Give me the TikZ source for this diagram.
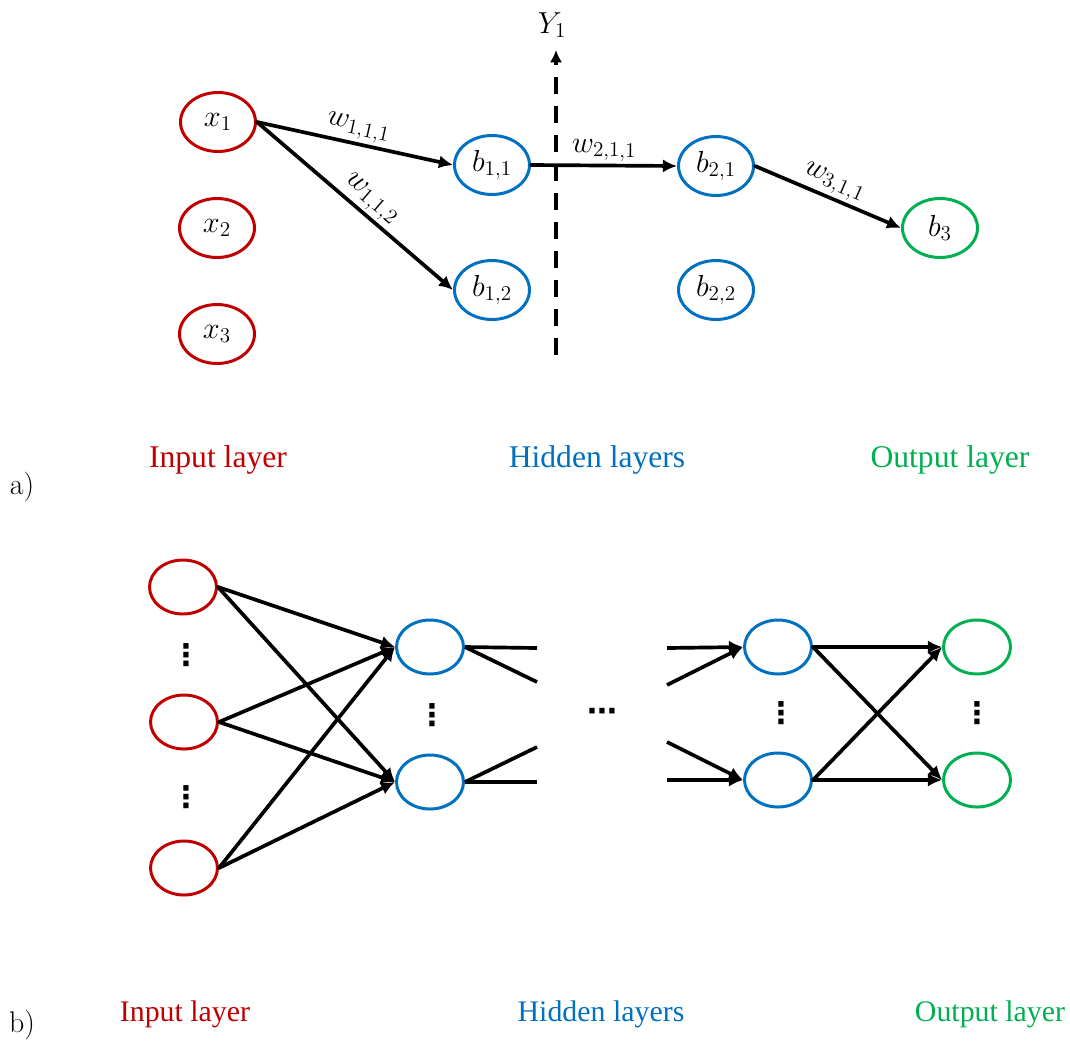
\documentclass[tikz,border=0pt]{standalone}
\usepackage{fontspec}
\newfontfamily\layerfont{Liberation Serif}
\newfontfamily\dotfont{DejaVu Sans}
\usetikzlibrary{arrows.meta,shapes.geometric}

\definecolor{inputred}{RGB}{192,0,0}
\definecolor{hiddenblue}{RGB}{0,112,192}
\definecolor{outputgreen}{RGB}{0,176,80}

\begin{document}
\begin{tikzpicture}[x=0.02cm,y=-0.02cm,line cap=round,line join=round,
    neuron/.style={ellipse,draw,line width=1.7pt,inner sep=0pt,
        minimum width=1.5cm,minimum height=1.18cm,
        font=\fontsize{18}{20}\selectfont},
    smallneuron/.style={ellipse,draw,line width=1.7pt,inner sep=0pt,
        minimum width=1.34cm,minimum height=1.08cm},
    edge/.style={line width=2.1pt,-{Latex[length=8pt,width=7.5pt]}},
    stub/.style={line width=2.1pt,line cap=butt},
    weight/.style={above,sloped,inner sep=1.5pt,
        font=\fontsize{18}{20}\selectfont},
    layerA/.style={anchor=base,font=\layerfont\fontsize{18}{20}\selectfont},
    layerB/.style={anchor=base,font=\layerfont\fontsize{17}{20}\selectfont},
    panel/.style={anchor=base,font=\fontsize{17}{20}\selectfont},
    dotsv/.style={inner sep=0pt,font=\dotfont\bfseries\fontsize{17}{20}\selectfont}]
    \useasboundingbox (0,0) rectangle (1070,1042);

    %----------------------------------------------------------
    % a) Red con una sola conexion por capa
    \node[neuron,draw=inputred] (x1) at (218,122) {$x_1$};
    \node[neuron,draw=inputred] (x2) at (217,228) {$x_2$};
    \node[neuron,draw=inputred] (x3) at (217,334) {$x_3$};

    \node[neuron,draw=hiddenblue] (b11) at (492,165) {$b_{1,1}$};
    \node[neuron,draw=hiddenblue] (b12) at (492,290) {$b_{1,2}$};
    \node[neuron,draw=hiddenblue] (b21) at (716,166) {$b_{2,1}$};
    \node[neuron,draw=hiddenblue] (b22) at (716,290) {$b_{2,2}$};

    \node[neuron,draw=outputgreen] (b3) at (940,228) {$b_3$};

    % Corte Y1
    \coordinate (cutlow) at (556,355);
    \coordinate (cuttop) at (556,50);
    \draw[line width=2.4pt,line cap=butt,dash pattern=on 9.7pt off 6.8pt,
        -{Latex[length=7pt,width=7pt]}] (cutlow) -- (cuttop);
    \node[font=\fontsize{18}{20}\selectfont] (Y1) at (552,25) {$Y_1$};

    % Pesos
    \draw[edge] (x1.east) -- node[weight,pos=0.5] {$w_{1,1,1}$} (b11.west);
    \draw[edge] (x1.east) -- node[weight,pos=0.53] {$w_{1,1,2}$} (b12.west);
    \draw[edge] (b11.east) -- node[weight,pos=0.5] {$w_{2,1,1}$} (b21.west);
    \draw[edge] (b21.east) -- node[weight,pos=0.5] {$w_{3,1,1}$} (b3.west);

    \node[layerA,inputred] (inA) at (218,467) {Input layer};
    \node[layerA,hiddenblue] (hidA) at (597,467) {Hidden layers};
    \node[layerA,outputgreen] (outA) at (950,467) {Output layer};
    \node[panel] (tagA) at (22,494.5) {a)};

    %----------------------------------------------------------
    % b) Red general
    \node[smallneuron,draw=inputred] (in1) at (183,587) {};
    \node[smallneuron,draw=inputred] (in2) at (184,722) {};
    \node[smallneuron,draw=inputred] (in3) at (184,868) {};
    \node[dotsv] (inv1) at (186,655) {⋮};
    \node[dotsv] (inv2) at (186,797) {⋮};

    \node[smallneuron,draw=hiddenblue] (h1a) at (430,647) {};
    \node[smallneuron,draw=hiddenblue] (h1b) at (430,782) {};
    \node[dotsv] (h1v) at (432,715) {⋮};

    \node[smallneuron,draw=hiddenblue] (h2a) at (778,647) {};
    \node[smallneuron,draw=hiddenblue] (h2b) at (778,780) {};
    \node[dotsv] (h2v) at (781,713) {⋮};

    \node[smallneuron,draw=outputgreen] (oa) at (977,647) {};
    \node[smallneuron,draw=outputgreen] (ob) at (977,780) {};
    \node[dotsv] (ov) at (977,713) {⋮};

    \node[dotsv] (midh) at (602,715) {⋯};

    % Entradas a la primera capa oculta
    \draw[edge] (in1.east) -- (h1a.west);
    \draw[edge] (in1.east) -- (h1b.west);
    \draw[edge] (in2.east) -- (h1a.west);
    \draw[edge] (in2.east) -- (h1b.west);
    \draw[edge] (in3.east) -- (h1a.west);
    \draw[edge] (in3.east) -- (h1b.west);

    % Conexiones cortadas entre capas ocultas
    \coordinate (gl1) at (537,648);
    \coordinate (gl2) at (537,682);
    \coordinate (gl3) at (537,747);
    \coordinate (gl4) at (537,782);
    \coordinate (gr1) at (667,648);
    \coordinate (gr2) at (667,685);
    \coordinate (gr3) at (667,742);
    \coordinate (gr4) at (667,780);
    \draw[stub] (h1a.east) -- (gl1);
    \draw[stub] (h1a.east) -- (gl2);
    \draw[stub] (h1b.east) -- (gl3);
    \draw[stub] (h1b.east) -- (gl4);
    \draw[edge,line cap=butt] (gr1) -- (h2a.west);
    \draw[edge,line cap=butt] (gr2) -- (h2a.west);
    \draw[edge,line cap=butt] (gr3) -- (h2b.west);
    \draw[edge,line cap=butt] (gr4) -- (h2b.west);

    % Capa de salida
    \draw[edge] (h2a.east) -- (oa.west);
    \draw[edge] (h2a.east) -- (ob.west);
    \draw[edge] (h2b.east) -- (oa.west);
    \draw[edge] (h2b.east) -- (ob.west);

    \node[layerB,inputred] (inB) at (185,1021) {Input layer};
    \node[layerB,hiddenblue] (hidB) at (601,1021) {Hidden layers};
    \node[layerB,outputgreen] (outB) at (990,1021) {Output layer};
    \node[panel] (tagB) at (22,1032.5) {b)};
\end{tikzpicture}
\end{document}
